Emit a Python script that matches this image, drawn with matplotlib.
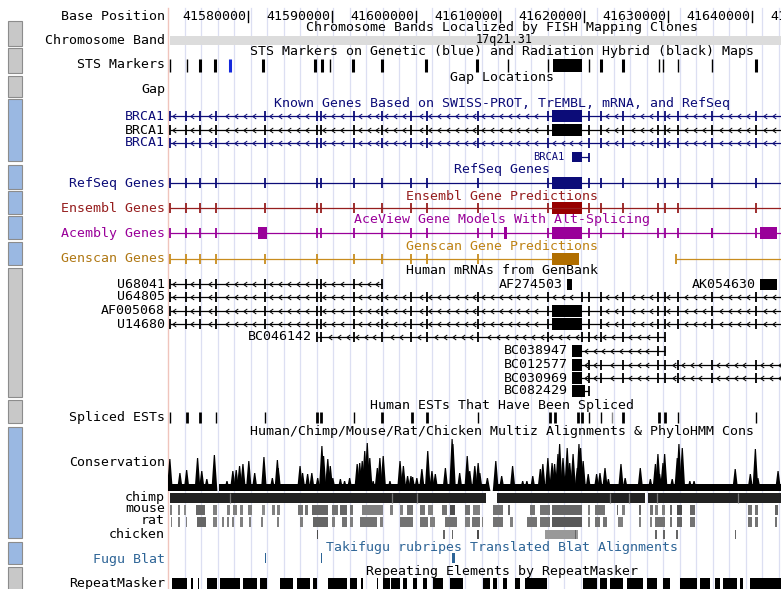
import numpy as np
import matplotlib
matplotlib.use("Agg")
import matplotlib.pyplot as plt
from matplotlib.patches import Rectangle
from matplotlib.path import Path

# ---- view (kb on chr17) ----
view_start, view_end = 41570.48, 41643.45
tick_kb = [41580, 41590, 41600, 41610, 41620, 41630, 41640, 41650]

# ---- track data (kb) ----
sts_thin = [41570.7, 41572.7, 41589.8, 41611.0, 41615.7, 41620.6, 41628.9, 41629.4, 41631.2, 41635.2]
sts_thick = [41574.3, 41576.1, 41581.8, 41588.0, 41588.8, 41592.5, 41596.0, 41601.2, 41607.3,
             41622.0, 41624.6, 41640.5]
sts_blue = [41577.9]
sts_blocks = [(41616.3, 41619.8)]

exons_left = [41570.7, 41572.6, 41574.3, 41576.2, 41582.0, 41588.2, 41588.7, 41592.6,
              41595.9, 41599.4, 41601.3, 41607.4]
exons_right = [41620.6, 41622.0, 41624.6, 41628.8, 41629.6, 41631.2, 41635.2, 41640.5]
big_exon = (41616.2, 41619.8)
small_exon = (41618.6, 41619.8)

genscan_exons = [41570.7, 41572.6, 41574.3, 41576.2, 41582.0, 41588.2, 41592.6, 41595.9,
                 41599.4, 41601.3, 41607.4]
genscan_block = (41616.2, 41619.4)
genscan2_start = 41630.95

acembly_extra = [41609.0, 41635.2]
acembly_blocks = [(41581.2, 41582.3), (41610.45, 41610.8), (41641.0, 41643.0)]

est_thin = [41570.7, 41576.2, 41582.0, 41592.6, 41607.4, 41620.6, 41622.0, 41631.2, 41640.5]
est_thick = [41572.7, 41574.3, 41588.2, 41588.7, 41596.0, 41599.5, 41601.3, 41616.0, 41616.5,
             41619.3, 41619.8, 41624.6, 41628.9, 41629.6]
est_gray = [41623.3]

cons_kb = [41570.7, 41571.9, 41572.7, 41574.0, 41574.5, 41575.1, 41576.0, 41577.5, 41578.2, 41578.6,
           41579.0, 41579.4, 41580.1, 41580.8, 41581.9, 41582.9, 41583.5, 41583.6, 41586.2, 41586.5,
           41587.1, 41587.6, 41588.3, 41588.8, 41589.0, 41589.5, 41589.8, 41590.1, 41591.0, 41591.5,
           41592.1, 41593.0, 41593.3, 41593.6, 41593.9, 41594.2, 41594.5, 41594.9, 41595.4, 41595.7,
           41596.1, 41596.9, 41598.1, 41598.5, 41599.0, 41599.4, 41599.6, 41600.1, 41600.7, 41601.4,
           41601.9, 41602.3, 41603.5, 41604.3, 41604.4, 41605.2, 41606.1, 41606.4, 41607.0, 41607.4,
           41607.6, 41608.5, 41609.5, 41610.2, 41611.5, 41612.7, 41613.2, 41613.9, 41614.8, 41615.1,
           41615.7, 41616.2, 41616.5, 41616.9, 41617.1, 41617.5, 41618.0, 41618.3, 41618.7, 41619.2,
           41619.4, 41619.6, 41619.9, 41620.5, 41621.5, 41621.9, 41622.5, 41622.9, 41624.4, 41624.9,
           41626.7, 41627.9, 41628.5, 41628.8, 41629.0, 41629.4, 41629.6, 41630.5, 41631.1, 41631.3,
           41631.7, 41632.6, 41633.1, 41638.0, 41639.8, 41640.4, 41640.7, 41643.1]
cons_h = [32, 18, 21, 33, 20, 12, 36, 10, 20, 21,
          25, 27, 30, 18, 34, 13, 31, 23, 25, 18,
          17, 18, 13, 45, 35, 32, 25, 13, 12, 10,
          13, 27, 28, 30, 40, 48, 33, 10, 23, 33,
          35, 10, 30, 25, 15, 15, 14, 13, 22, 40,
          20, 17, 23, 52, 47, 18, 35, 20, 25, 28,
          18, 13, 30, 15, 25, 10, 10, 15, 22, 27,
          33, 28, 27, 37, 47, 33, 43, 28, 37, 23,
          47, 43, 30, 17, 17, 18, 23, 12, 27, 13,
          23, 12, 27, 37, 17, 28, 37, 12, 33, 47,
          43, 10, 10, 22, 17, 42, 13, 20]
cons_base = [(41570.6, 41576.2), (41576.5, 41608.6), (41609.3, 41643.5)]

chimp_segments = [(41570.7, 41608.3), (41609.6, 41627.3), (41627.6, 41643.5)]
chimp_breaks = [41577.9, 41597.1, 41600.1, 41623.1, 41625.4, 41628.7, 41638.3]

mouse_blocks = [
    (41570.7, 41571.0, .5), (41571.7, 41571.9, .5), (41572.4, 41572.6, .45), (41573.8, 41574.9, .6),
    (41575.8, 41576.3, .5), (41577.5, 41577.9, .5), (41578.2, 41578.7, .5), (41579.0, 41579.4, .5),
    (41580.0, 41580.5, .5), (41581.7, 41582.0, .45), (41582.9, 41583.2, .5), (41583.4, 41583.8, .5),
    (41585.9, 41586.5, .55), (41586.8, 41587.1, .55), (41587.6, 41589.5, .6), (41590.0, 41590.7, .55),
    (41590.9, 41591.8, .6), (41592.1, 41592.5, .55), (41593.6, 41596.1, .5), (41596.9, 41597.3, .5),
    (41598.1, 41598.5, .5), (41598.9, 41599.6, .55), (41600.5, 41601.1, .55), (41601.4, 41602.0, .5),
    (41603.1, 41603.7, .55), (41604.1, 41604.6, .7), (41605.8, 41606.4, .55), (41606.8, 41607.6, .5),
    (41609.2, 41610.4, .55), (41610.9, 41611.2, .6), (41613.6, 41614.2, .55), (41614.8, 41616.0, .55),
    (41616.2, 41619.8, .6), (41620.5, 41620.7, .5), (41621.3, 41622.5, .55), (41623.9, 41624.1, .6),
    (41624.5, 41624.9, .5), (41626.6, 41626.8, .6), (41627.9, 41628.2, .55), (41628.5, 41628.8, .5),
    (41629.3, 41629.6, .5), (41630.2, 41630.5, .6), (41631.1, 41631.7, .7), (41632.6, 41633.2, .6),
    (41639.5, 41640.0, .55), (41640.4, 41640.7, .55), (41642.7, 41643.1, .6)]
rat_blocks = [
    (41570.8, 41571.0, .5), (41571.7, 41571.9, .5), (41572.6, 41572.8, .5), (41573.9, 41575.0, .6),
    (41575.8, 41576.3, .5), (41576.9, 41577.1, .5), (41577.5, 41577.7, .5), (41578.1, 41578.3, .5),
    (41579.0, 41579.4, .5), (41580.1, 41580.4, .5), (41581.6, 41581.8, .5), (41583.5, 41583.7, .5),
    (41586.2, 41586.5, .5), (41587.7, 41589.5, .6), (41590.0, 41590.4, .5), (41591.2, 41591.8, .55),
    (41592.1, 41592.5, .5), (41593.3, 41595.4, .55), (41595.7, 41596.1, .5), (41598.1, 41599.6, .55),
    (41600.5, 41601.4, .55), (41601.7, 41602.3, .5), (41603.5, 41604.9, .55), (41605.8, 41606.4, .5),
    (41606.7, 41607.6, .55), (41607.8, 41607.9, .5), (41609.2, 41610.4, .55), (41611.2, 41611.6, .5),
    (41613.2, 41614.4, .55), (41614.8, 41616.0, .55), (41616.2, 41619.8, .65), (41620.5, 41620.7, .5),
    (41621.3, 41621.9, .55), (41622.3, 41622.7, .55), (41624.1, 41624.6, .5), (41626.6, 41626.8, .5),
    (41627.9, 41628.1, .5), (41628.5, 41629.6, .55), (41630.2, 41630.5, .55), (41631.1, 41631.7, .6),
    (41632.6, 41633.2, .55), (41639.5, 41640.0, .55), (41640.4, 41640.7, .55), (41642.7, 41643.0, .55)]
chicken_blocks = [
    (41588.2, 41588.35, .7), (41603.2, 41603.4, .6), (41604.3, 41604.45, .6), (41607.3, 41607.45, .7),
    (41615.4, 41619.3, .4), (41618.9, 41619.1, .6), (41628.5, 41628.7, .6), (41629.4, 41629.6, .6),
    (41631.0, 41631.15, .6), (41638.0, 41638.15, .6)]

fugu_hits = [(41582.0, 41582.15), (41588.7, 41588.85), (41604.3, 41604.6)]

repeats = [
    (41570.95, 41572.74), (41573.2, 41573.5), (41574.0, 41574.2), (41575.1, 41576.3), (41576.7, 41579.0),
    (41579.4, 41581.1), (41581.4, 41582.3), (41583.8, 41585.4), (41585.8, 41587.4), (41587.7, 41588.2),
    (41589.5, 41591.8), (41592.1, 41593.0), (41593.5, 41593.7), (41595.3, 41595.5), (41596.1, 41596.9),
    (41597.0, 41598.1), (41598.5, 41598.9), (41599.6, 41600.1), (41600.8, 41601.3), (41602.0, 41603.2),
    (41604.0, 41605.6), (41608.0, 41608.8), (41609.2, 41609.6), (41610.4, 41610.8), (41611.8, 41612.4),
    (41613.0, 41615.6), (41619.9, 41621.5), (41621.9, 41622.7), (41623.1, 41624.6), (41625.1, 41627.0),
    (41627.5, 41628.7), (41629.4, 41630.2), (41631.4, 41633.5), (41633.8, 41635.0), (41635.6, 41636.2),
    (41636.5, 41638.2), (41638.6, 41638.9), (41639.8, 41643.5)]

# ---- colours / fonts ----
NAVY = "#0c0c78"
ENS = "#961e1e"
ACE = "#990099"
GEN = "#c88c1e"
GEN_DARK = "#b06e00"
FUGU = "#2d6496"
FONT = dict(family="DejaVu Sans Mono", fontsize=9.5)
W, H = 781, 589

fig = plt.figure(figsize=(W / 100, H / 100), dpi=100)
bg = fig.add_axes([0, 0, 1, 1])
bg.set_xlim(0, W)
bg.set_ylim(H, 0)
bg.axis("off")

ax = fig.add_axes([168 / W, 0, (W - 168) / W, 1])
ax.set_xlim(view_start, view_end)
ax.set_ylim(H, 0)
ax.axis("off")
ax.patch.set_alpha(0)

# guidelines + left border
for gx in np.arange(184.5, W, 16.5):
    bg.plot([gx, gx], [8, H], color="#dcdff2", lw=0.9, zorder=0)
bg.plot([168, 168], [8, H], color="#f0c4bc", lw=1.0, zorder=0)

# side buttons
buttons = [(21, 46, "g"), (48, 73, "g"), (76, 97, "g"), (99, 161, "b"), (165, 189, "b"),
           (191, 214, "b"), (216, 239, "b"), (242, 265, "b"), (268, 397, "g"), (400, 423, "g"),
           (427, 538, "b"), (542, 564, "b"), (567, 592, "g")]
for y0, y1, c in buttons:
    fc = "#c8c8c8" if c == "g" else "#9ab8e2"
    bg.add_patch(Rectangle((8, y0), 14, y1 - y0, fc=fc, ec="#8c8c8c", lw=0.8))

# left labels
labels = [("Base Position", 16, "black"), ("Chromosome Band", 40, "black"), ("STS Markers", 65, "black"),
          ("Gap", 90, "black"), ("BRCA1", 116, NAVY), ("BRCA1", 130, "black"), ("BRCA1", 143, NAVY),
          ("RefSeq Genes", 183, NAVY), ("Ensembl Genes", 208, ENS), ("Acembly Genes", 233, ACE),
          ("Genscan Genes", 259, "#b07814"), ("U68041", 284, "black"), ("U64805", 297, "black"),
          ("AF005068", 311, "black"), ("U14680", 324, "black"), ("Spliced ESTs", 417, "black"),
          ("Conservation", 463, "black"), ("chimp", 497, "black"), ("mouse", 509, "black"),
          ("rat", 521, "black"), ("chicken", 534, "black"), ("Fugu Blat", 559, FUGU),
          ("RepeatMasker", 583, "black")]
for s, y, c in labels:
    bg.text(165, y, s, ha="right", va="center", color=c, **FONT)

# track titles (centred on the full browser image)
titles = [("Chromosome Bands Localized by FISH Mapping Clones", 28, "black"),
          ("STS Markers on Genetic (blue) and Radiation Hybrid (black) Maps", 52, "black"),
          ("Gap Locations", 78, "black"),
          ("Known Genes Based on SWISS-PROT, TrEMBL, mRNA, and RefSeq", 103, NAVY),
          ("RefSeq Genes", 170, NAVY),
          ("Ensembl Gene Predictions", 196, ENS),
          ("AceView Gene Models With Alt-Splicing", 220, ACE),
          ("Genscan Gene Predictions", 246, "#be8214"),
          ("Human mRNAs from GenBank", 271, "black"),
          ("Human ESTs That Have Been Spliced", 405, "black"),
          ("Human/Chimp/Mouse/Rat/Chicken Multiz Alignments & PhyloHMM Cons", 431, "black"),
          ("Takifugu rubripes Translated Blat Alignments", 547, FUGU),
          ("Repeating Elements by RepeatMasker", 572, "black")]
for s, y, c in titles:
    bg.text(502, y, s, ha="center", va="center", color=c, zorder=3, **FONT)

# base position ruler
px = (view_end - view_start) / (W - 168)  # kb per pixel
for t in tick_kb:
    ax.plot([t, t], [11, 22], color="black", lw=1.0)
    ax.text(t - 1.6 * px, 16, f"{t}000", ha="right", va="center", clip_on=False, **FONT)

# chromosome band
ax.add_patch(Rectangle((41570.7, 36), view_end - 41570.7, 9, fc="#dcdcdc", lw=0))
ax.text(41610.45, 40, "17q21.31", ha="center", va="center", fontsize=8.5,
        family="DejaVu Sans Mono", zorder=4)

# STS markers
ax.vlines(sts_thin, 59, 72, color="black", lw=1.0)
ax.vlines(sts_thick, 59, 72, color="black", lw=2.2)
ax.vlines(sts_blue, 59, 72, color="#1428dc", lw=2.2)
for b0, b1 in sts_blocks:
    ax.add_patch(Rectangle((b0, 59), b1 - b0, 13, fc="black", lw=0))

chev = Path([(0.7, 1.0), (-0.7, 0.0), (0.7, -1.0)], [Path.MOVETO, Path.LINETO, Path.LINETO])


def draw_gene(y, start, end, exons, color, blocks=(), arrows=False, h=5.0, bcolor=None):
    ax.plot([start, end], [y, y], color=color, lw=0.9, solid_capstyle="butt")
    ax.vlines(exons, y - h, y + h, color=color, lw=1.3)
    for b0, b1 in blocks:
        ax.add_patch(Rectangle((b0, y - h - 0.8), b1 - b0, 2 * h + 1.6, fc=bcolor or color, lw=0))
    if arrows:
        xs = np.arange(start + 0.55, end, 1.05)
        keep = [x for x in xs
                if (not exons or min(abs(x - e) for e in exons) > 0.35)
                and not any(b0 - 0.35 < x < b1 + 0.35 for b0, b1 in blocks)]
        ax.plot(keep, [y] * len(keep), ls="none", marker=chev, ms=3.6,
                mec=color, mfc="none", mew=0.7)


all_exons = exons_left + [41615.7] + exons_right
# known genes
draw_gene(116, 41570.7, view_end, all_exons, NAVY, [big_exon], arrows=True)
draw_gene(130, 41570.7, view_end, all_exons, "black", [big_exon], arrows=True)
draw_gene(143, 41570.7, view_end, all_exons, NAVY, arrows=True)
draw_gene(157, small_exon[0], 41620.6, [41620.6], NAVY, [small_exon], h=4.5)
ax.text(small_exon[0] - 0.9, 157, "BRCA1", ha="right", va="center", color=NAVY,
        family="DejaVu Sans Mono", fontsize=7.5)

# RefSeq / Ensembl / Acembly / Genscan
draw_gene(183, 41570.7, view_end, all_exons, NAVY, [big_exon])
draw_gene(208, 41570.7, view_end, exons_left + [41615.7] + exons_right[:-2] + [41640.5], ENS,
          [big_exon], bcolor="#960000")
draw_gene(233, 41570.7, view_end, all_exons + acembly_extra, ACE, [big_exon] + acembly_blocks)
draw_gene(259, 41570.7, genscan_block[0], genscan_exons, GEN, [genscan_block], bcolor=GEN_DARK)
draw_gene(259, genscan2_start, view_end, [genscan2_start], GEN)

# mRNAs
draw_gene(284, 41570.7, 41595.9, exons_left[:-3], "black", arrows=True)
draw_gene(297, 41570.7, view_end, all_exons + [41619.8], "black", arrows=True)
draw_gene(311, 41570.7, view_end, all_exons, "black", [big_exon], arrows=True)
draw_gene(324, 41570.7, view_end, all_exons, "black", [big_exon], arrows=True)
draw_gene(337, 41588.2, 41629.6, exons_left[5:] + [41615.7, 41619.8] + exons_right[:5], "black",
          arrows=True)
draw_gene(351, small_exon[0], 41629.6, [41628.8, 41629.6], "black", [small_exon], arrows=True)
draw_gene(365, small_exon[0], view_end, exons_right, "black", [small_exon], arrows=True)
draw_gene(378, small_exon[0], view_end, exons_right, "black", [small_exon], arrows=True)
draw_gene(391, small_exon[0], 41620.6, [41620.6], "black", [(small_exon[0], 41620.1)])
ax.add_patch(Rectangle((41618.0, 279), 0.6, 11, fc="black", lw=0))
ax.add_patch(Rectangle((41641.0, 279), 2.0, 11, fc="black", lw=0))
inline = [("AF274503", 41618.0, 284), ("AK054630", 41641.0, 284), ("BC046142", 41588.2, 337),
          ("BC038947", small_exon[0], 351), ("BC012577", small_exon[0], 365),
          ("BC030969", small_exon[0], 378), ("BC082429", small_exon[0], 391)]
for s, x, y in inline:
    ax.text(x - 0.55, y, s, ha="right", va="center", **FONT)

# spliced ESTs
ax.vlines(est_thin, 412, 423, color="black", lw=1.0)
ax.vlines(est_thick, 412, 423, color="black", lw=2.0)
ax.vlines(est_gray, 412, 423, color="#888888", lw=1.0)

# conservation
cons_bottom = 491
for b0, b1 in cons_base:
    ax.add_patch(Rectangle((b0, cons_bottom - 7), b1 - b0, 7, fc="black", lw=0))
for x, h in zip(cons_kb, cons_h):
    ax.fill([x - 0.36, x - 0.07, x + 0.07, x + 0.36],
            [cons_bottom, cons_bottom - h, cons_bottom - h, cons_bottom], color="black", lw=0)

# chimp / mouse / rat / chicken
for b0, b1 in chimp_segments:
    ax.add_patch(Rectangle((b0, 493), b1 - b0, 10, fc="#222222", lw=0))
ax.vlines(chimp_breaks, 493, 503, color="#777777", lw=0.9)
for rows, y0, hh in [(mouse_blocks, 505, 10), (rat_blocks, 517, 10), (chicken_blocks, 530, 9)]:
    for b0, b1, d in rows:
        ax.add_patch(Rectangle((b0, y0), max(b1 - b0, 0.12), hh, fc=str(1 - d), lw=0))

# fugu blat
for b0, b1 in fugu_hits:
    ax.add_patch(Rectangle((b0, 553), b1 - b0, 10, fc=FUGU, lw=0))

# repeatmasker
for b0, b1 in repeats:
    ax.add_patch(Rectangle((b0, 578), b1 - b0, 11, fc="black", lw=0))

fig.savefig("out.png", dpi=100)
